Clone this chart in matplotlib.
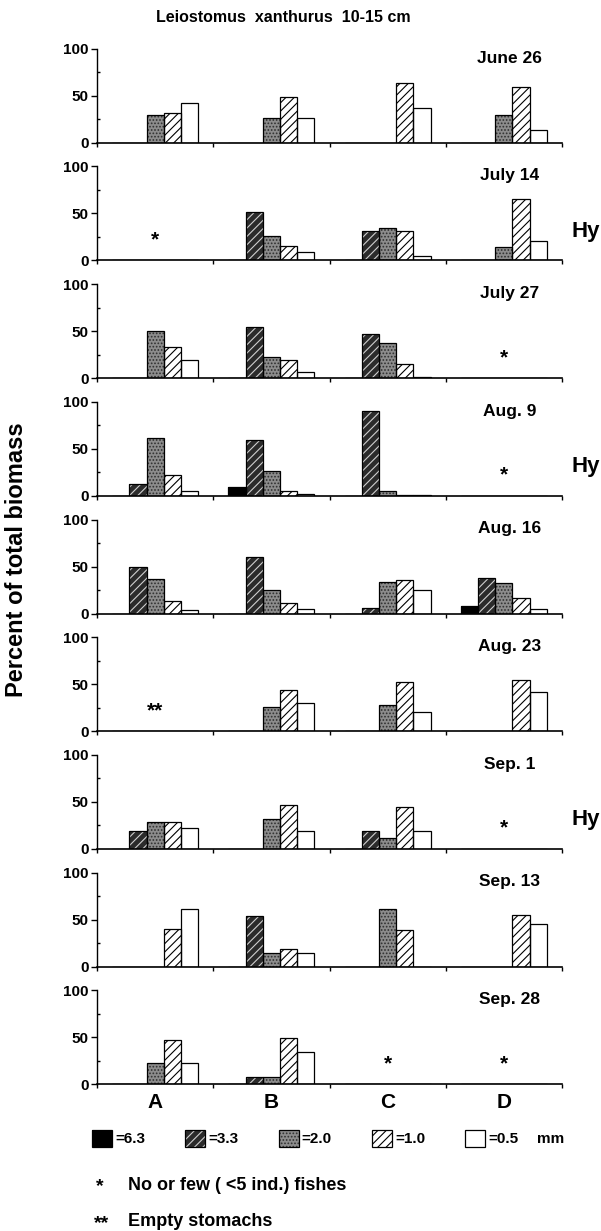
import matplotlib.pyplot as plt
from matplotlib.patches import Rectangle
import numpy as np

plt.rcParams['font.family'] = ['Liberation Sans', 'DejaVu Sans']
plt.rcParams['font.weight'] = 'bold'
plt.rcParams['hatch.linewidth'] = 0.8

sites = ["A", "B", "C", "D"]
size_labels = ["=6.3", "=3.3", "=2.0", "=1.0", "=0.5"]
dates = ["June 26", "July 14", "July 27", "Aug. 9", "Aug. 16",
         "Aug. 23", "Sep. 1", "Sep. 13", "Sep. 28"]

# percent of total biomass, per site A-D, size classes 6.3 / 3.3 / 2.0 / 1.0 / 0.5 mm
june26 = [[0, 0, 29, 32, 42], [0, 0, 26, 49, 26], [0, 0, 0, 64, 37], [0, 0, 30, 59, 13]]
july14 = [[0, 0, 0, 0, 0], [0, 52, 26, 15, 9], [0, 31, 34, 31, 5], [0, 0, 14, 65, 21]]
july27 = [[0, 0, 50, 33, 19], [0, 54, 22, 19, 6], [0, 47, 37, 15, 1.5], [0, 0, 0, 0, 0]]
aug9 = [[0, 13, 61, 22, 5], [9, 59, 26, 5, 2], [0, 90, 5, 1, 0.7], [0, 0, 0, 0, 0]]
aug16 = [[0, 49, 37, 13, 4], [0, 60, 25, 11, 5], [0, 6, 34, 36, 25], [8, 38, 32, 17, 5]]
aug23 = [[0, 0, 0, 0, 0], [0, 0, 26, 44, 30], [0, 0, 28, 52, 20], [0, 0, 0, 55, 42]]
sep1 = [[0, 19, 29, 29, 22], [0, 0, 32, 47, 19], [0, 19, 12, 45, 19], [0, 0, 0, 0, 0]]
sep13 = [[0, 0, 0, 40, 61], [0, 54, 14, 19, 14], [0, 0, 61, 39, 0], [0, 0, 0, 55, 45]]
sep28 = [[0, 0, 23, 47, 23], [0, 8, 8, 49, 34], [0, 0, 0, 0, 0], [0, 0, 0, 0, 0]]
panels = [june26, july14, july27, aug9, aug16, aug23, sep1, sep13, sep28]

# * = no or few fishes, ** = empty stomachs
notes = [("July 14", "A", "*"), ("July 27", "D", "*"), ("Aug. 9", "D", "*"),
         ("Aug. 23", "A", "**"), ("Sep. 1", "D", "*"),
         ("Sep. 28", "C", "*"), ("Sep. 28", "D", "*")]
hy_dates = ["July 14", "Aug. 9", "Sep. 1"]

styles = [
    dict(face="black", hatch=None, hc="black"),
    dict(face="#2b2b2b", hatch="////", hc="#cfcfcf"),
    dict(face="#8c8c8c", hatch=".....", hc="#303030"),
    dict(face="white", hatch="////", hc="black"),
    dict(face="white", hatch=None, hc="black"),
]

W, H = 601, 1231
fig = plt.figure(figsize=(W / 100, H / 100), dpi=100)

left, right = 97, 562
zero0, step, span = 142.7, 117.7, 94
bw = 0.148
x = np.arange(len(sites))

for i, (date, data) in enumerate(zip(dates, panels)):
    z = zero0 + step * i
    ax = fig.add_axes([left / W, 1 - z / H, (right - left) / W, span / H])
    vals = np.array(data, dtype=float)
    for k, st in enumerate(styles):
        xs = x + (k - 2) * bw
        ax.bar(xs, vals[:, k], bw, color=st["face"], edgecolor=st["hc"],
               hatch=st["hatch"], linewidth=0, zorder=2)
        ax.bar(xs, vals[:, k], bw, fill=False, edgecolor="black",
               linewidth=0.9, zorder=3)
    ax.set_xlim(-0.5, 3.5)
    ax.set_ylim(0, 100)
    for s in ["top", "right"]:
        ax.spines[s].set_visible(False)
    ax.spines["left"].set_linewidth(1.0)
    ax.spines["bottom"].set_linewidth(1.2)
    ax.set_yticks([0, 50, 100])
    ax.set_yticks([25, 75], minor=True)
    ax.tick_params(axis="y", which="major", length=4, width=1, labelsize=11, pad=2)
    ax.tick_params(axis="y", which="minor", length=2, width=1, direction="in")
    ax.set_xticks([-0.5, 0.5, 1.5, 2.5, 3.5])
    ax.set_xticklabels([])
    ax.tick_params(axis="x", which="major", length=3, width=1)
    ax.set_xticks(x, minor=True)
    ax.tick_params(axis="x", which="minor", length=0, labelsize=15, pad=6)
    if i == len(dates) - 1:
        ax.set_xticklabels(sites, minor=True, fontweight="bold")
    ax.text(3.05, 90, date, ha="center", va="center", fontsize=12.5, fontweight="bold")
    for d, site, mark in notes:
        if d == date:
            ax.text(sites.index(site), 22, mark, ha="center", va="center",
                    fontsize=15, fontweight="bold")
    if date in hy_dates:
        ax.text(3.58, 31, "Hy", ha="left", va="center", fontsize=16,
                fontweight="bold", clip_on=False)

fig.text(283 / W, 1 - 18 / H, "Leiostomus  xanthurus  10-15 cm", ha="center",
         va="center", fontsize=11.5, fontweight="bold")
fig.text(17 / W, 1 - 560 / H, "Percent of total biomass", rotation=90, ha="center",
         va="center", fontsize=17, fontweight="bold")

# legend and footnotes in pixel space
lax = fig.add_axes([0, 0, 1, 1])
lax.set_xlim(0, W)
lax.set_ylim(H, 0)
lax.axis("off")
for k, (lab, st) in enumerate(zip(size_labels, styles)):
    x0 = 92 + 93.3 * k
    lax.add_patch(Rectangle((x0, 1130), 20, 17, facecolor=st["face"], edgecolor=st["hc"],
                            hatch=st["hatch"], linewidth=0))
    lax.add_patch(Rectangle((x0, 1130), 20, 17, fill=False, edgecolor="black", linewidth=0.9))
    lax.text(x0 + 23, 1139, lab, ha="left", va="center", fontsize=11, fontweight="bold")
lax.text(537, 1139, "mm", ha="left", va="center", fontsize=11, fontweight="bold")
lax.text(100, 1187, "*", ha="center", va="center", fontsize=14, fontweight="bold")
lax.text(128, 1185, "No or few ( <5 ind.) fishes", ha="left", va="center",
         fontsize=13, fontweight="bold")
lax.text(102, 1224, "**", ha="center", va="center", fontsize=14, fontweight="bold")
lax.text(128, 1222, "Empty stomachs", ha="left", va="center", fontsize=13, fontweight="bold")

fig.savefig("out.png", dpi=100)
